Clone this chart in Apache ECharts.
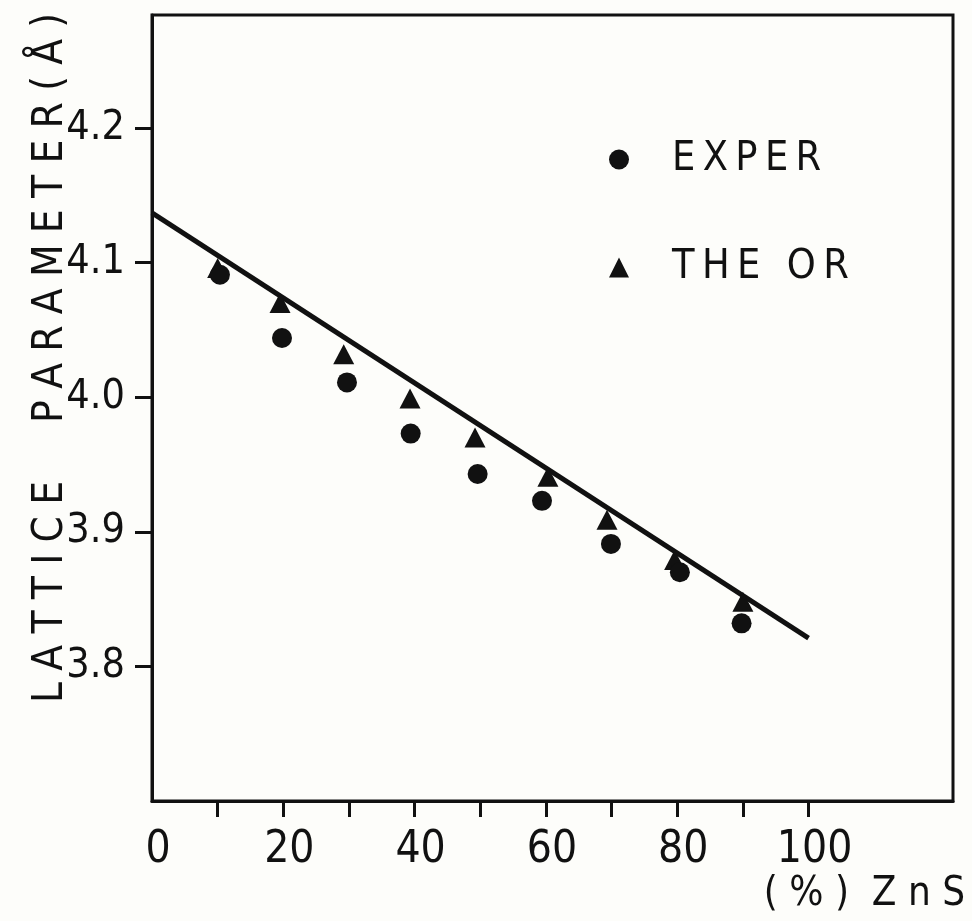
<!DOCTYPE html>
<html>
<head>
<meta charset="utf-8">
<script src="https://cdn.jsdelivr.net/npm/echarts@6/dist/echarts.min.js"></script>
<style>
html,body{margin:0;padding:0;background:#fdfdfa;}
#chart{width:972px;height:921px;}
</style>
</head>
<body>
<div id="chart"></div>
<script>
const xExper = [10.35, 19.8, 29.7, 39.4, 49.6, 59.4, 69.9, 80.4, 89.8];
const yExper = [4.091, 4.044, 4.011, 3.973, 3.943, 3.923, 3.891, 3.870, 3.832];
const xTheor = [10.0, 19.5, 29.2, 39.3, 49.2, 60.3, 69.3, 79.6, 90.0];
const yTheor = [4.096, 4.070, 4.032, 3.999, 3.970, 3.941, 3.909, 3.879, 3.848];
const lineX = [0, 100];
const lineY = [4.137, 3.821];
const xTickValues = [10, 20, 30, 40, 50, 60, 70, 80, 90, 100];
const xLabelValues = [0, 20, 40, 60, 80, 100];
const yTickValues = [3.8, 3.9, 4.0, 4.1, 4.2];
const legendNames = ['EXPER', 'THE OR'];
const yTitle = 'LATTICE  PARAMETER(Å)';
const xTitle = '(%) ZnS';

const FONT = "'DejaVu Sans Condensed', 'DejaVu Sans', sans-serif";
const INK = '#111111';
const spaced = (s, sep) => s.split('').join(sep || '\u2009');

const GRID = {left: 152, right: 19, top: 15, bottom: 120};

const chart = echarts.init(document.getElementById('chart'));
const zip = (a, b) => a.map((v, i) => [v, b[i]]);

chart.setOption({
  backgroundColor: '#fdfdfa',
  animation: false,
  grid: Object.assign({show: true, borderColor: INK, borderWidth: 3, backgroundColor: 'transparent'}, GRID),
  legend: {
    data: [{name: legendNames[0], icon: 'circle'}, {name: legendNames[1], icon: 'triangle'}],
    orient: 'vertical', left: 604, top: 134, itemWidth: 20, itemHeight: 20, itemGap: 67,
    itemStyle: {opacity: 1, color: INK},
    textStyle: {fontFamily: FONT, fontSize: 41, color: INK, padding: [0, 0, 0, 38]},
    formatter: n => spaced(n)
  },
  xAxis: {
    type: 'value', min: 0, max: 122, splitLine: {show: false},
    position: 'bottom',
    axisLine: {show: true, lineStyle: {color: INK, width: 3}},
    axisTick: {show: true, inside: false, length: 16, customValues: xTickValues, lineStyle: {color: INK, width: 3}},
    axisLabel: {show: true, customValues: xLabelValues, margin: 28, fontFamily: FONT, fontSize: 44, color: INK, padding: [0, 0, 0, 12]},
    name: xTitle.split(' ').map(w => w.split('').join(' ')).join('  '),
    nameLocation: 'end', nameGap: 12, nameMoveOverlap: false,
    nameTextStyle: {fontFamily: FONT, fontSize: 40, color: INK, align: 'right', verticalAlign: 'top', padding: [74, 0, 0, 0]}
  },
  yAxis: {
    type: 'value', min: 3.7, max: 4.284, splitLine: {show: false},
    position: 'left',
    axisLine: {show: true, lineStyle: {color: INK, width: 3}},
    axisTick: {show: true, inside: false, length: 17, customValues: yTickValues, lineStyle: {color: INK, width: 3}},
    axisLabel: {show: true, customValues: yTickValues, margin: 27, fontFamily: FONT, fontSize: 41, color: INK, formatter: v => v.toFixed(1)},
    name: spaced(yTitle, '\u2009\u200A'),
    nameLocation: 'middle', nameRotate: 90, nameGap: 80, nameMoveOverlap: false,
    nameTextStyle: {fontFamily: FONT, fontSize: 42, color: INK, padding: [0, 0, 0, 100]}
  },
  series: [
    {
      name: 'fit', type: 'line', data: zip(lineX, lineY), showSymbol: false, symbol: 'none',
      lineStyle: {color: INK, width: 5}, z: 3
    },
    {
      name: legendNames[1], type: 'scatter', data: zip(xTheor, yTheor), symbol: 'triangle', symbolSize: [21, 20],
      itemStyle: {color: INK, opacity: 1}, z: 4
    },
    {
      name: legendNames[0], type: 'scatter', data: zip(xExper, yExper), symbol: 'circle', symbolSize: 20,
      itemStyle: {color: INK, opacity: 1}, z: 4
    }
  ]
});
</script>
</body>
</html>
